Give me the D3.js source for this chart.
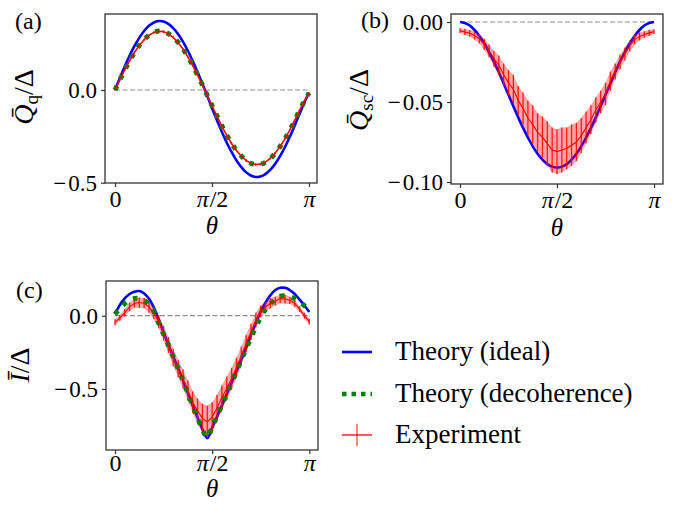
<!DOCTYPE html>
<html>
<head>
<meta charset="utf-8">
<script src="https://cdn.jsdelivr.net/npm/d3@7"></script>
<style>
  body { margin: 0; background: #fff; }
  svg text { font-family: "Liberation Serif", "Times New Roman", serif; }
</style>
</head>
<body>
<svg id="fig" width="676" height="510"></svg>
<script>
// theta grid, 41 samples from 0 to pi
const theta = d3.range(41).map(k => k * Math.PI / 40);

// (a) Q_q / Delta
const qqIdeal = [0, 0.065, 0.127, 0.185, 0.236, 0.281, 0.318, 0.346, 0.364, 0.372, 0.370, 0.357, 0.334, 0.302, 0.261, 0.213, 0.158, 0.098, 0.035, -0.031, -0.097, -0.162, -0.224, -0.282, -0.333, -0.378, -0.415, -0.443, -0.461, -0.469, -0.467, -0.454, -0.431, -0.399, -0.358, -0.310, -0.255, -0.195, -0.132, -0.070, -0.015];
const qqDecoh = [0, 0.054, 0.107, 0.156, 0.201, 0.240, 0.272, 0.296, 0.311, 0.318, 0.316, 0.304, 0.285, 0.257, 0.222, 0.181, 0.134, 0.083, 0.028, -0.028, -0.084, -0.139, -0.192, -0.242, -0.286, -0.324, -0.355, -0.379, -0.395, -0.402, -0.401, -0.390, -0.370, -0.342, -0.307, -0.266, -0.219, -0.168, -0.113, -0.063, -0.016];
const qqExp = [0, 0.055, 0.108, 0.157, 0.202, 0.240, 0.271, 0.295, 0.310, 0.317, 0.315, 0.303, 0.284, 0.256, 0.221, 0.180, 0.133, 0.082, 0.027, -0.029, -0.085, -0.140, -0.193, -0.243, -0.287, -0.325, -0.356, -0.380, -0.395, -0.402, -0.400, -0.389, -0.369, -0.341, -0.306, -0.265, -0.218, -0.167, -0.112, -0.062, -0.015];
const qqErr = [0.004, 0.005, 0.005, 0.006, 0.006, 0.006, 0.007, 0.006, 0.007, 0.007, 0.007, 0.006, 0.007, 0.007, 0.006, 0.007, 0.007, 0.006, 0.007, 0.007, 0.007, 0.007, 0.006, 0.007, 0.007, 0.006, 0.007, 0.007, 0.006, 0.007, 0.007, 0.006, 0.007, 0.006, 0.006, 0.006, 0.005, 0.006, 0.005, 0.005, 0.004];

// (b) Q_sc / Delta
const qscIdeal = [0, -0.0006, -0.0022, -0.0050, -0.0087, -0.0133, -0.0188, -0.0248, -0.0314, -0.0384, -0.0455, -0.0526, -0.0596, -0.0662, -0.0722, -0.0777, -0.0823, -0.0860, -0.0888, -0.0904, -0.0910, -0.0904, -0.0888, -0.0860, -0.0823, -0.0777, -0.0722, -0.0662, -0.0596, -0.0526, -0.0455, -0.0384, -0.0314, -0.0248, -0.0188, -0.0133, -0.0087, -0.0050, -0.0022, -0.0006, 0];
const qscExp = [-0.0054, -0.0062, -0.0070, -0.0085, -0.0105, -0.0140, -0.0180, -0.0230, -0.0270, -0.0330, -0.0380, -0.0420, -0.0490, -0.0540, -0.0600, -0.0640, -0.0690, -0.0720, -0.0760, -0.0800, -0.0810, -0.0800, -0.0790, -0.0770, -0.0750, -0.0710, -0.0660, -0.0610, -0.0550, -0.0500, -0.0450, -0.0370, -0.0310, -0.0250, -0.0200, -0.0150, -0.0110, -0.0090, -0.0078, -0.0068, -0.0060];
const qscErr = [0.0015, 0.002, 0.002, 0.0025, 0.003, 0.0035, 0.004, 0.005, 0.006, 0.007, 0.008, 0.009, 0.009, 0.010, 0.011, 0.012, 0.012, 0.013, 0.014, 0.014, 0.014, 0.014, 0.013, 0.013, 0.012, 0.011, 0.010, 0.009, 0.008, 0.007, 0.007, 0.006, 0.005, 0.0045, 0.004, 0.0035, 0.003, 0.0025, 0.002, 0.002, 0.0015];

// (c) I / Delta
const iIdeal = [0.011, 0.073, 0.118, 0.148, 0.164, 0.168, 0.152, 0.115, 0.055, -0.025, -0.115, -0.200, -0.280, -0.360, -0.440, -0.528, -0.612, -0.695, -0.775, -0.835, -0.765, -0.690, -0.612, -0.535, -0.457, -0.380, -0.300, -0.220, -0.130, -0.050, 0.030, 0.090, 0.140, 0.175, 0.190, 0.190, 0.175, 0.148, 0.110, 0.070, 0.025];
const iDecoh = [0.010, 0.050, 0.082, 0.105, 0.117, 0.118, 0.105, 0.075, 0.027, -0.050, -0.127, -0.202, -0.280, -0.360, -0.440, -0.528, -0.612, -0.695, -0.775, -0.830, -0.760, -0.685, -0.610, -0.533, -0.455, -0.380, -0.302, -0.222, -0.150, -0.075, -0.010, 0.045, 0.082, 0.112, 0.133, 0.136, 0.130, 0.117, 0.095, 0.068, 0.040];
const iExp = [-0.045, -0.015, 0.020, 0.060, 0.085, 0.090, 0.085, 0.060, 0.015, -0.040, -0.120, -0.200, -0.285, -0.360, -0.430, -0.510, -0.590, -0.650, -0.700, -0.725, -0.690, -0.630, -0.560, -0.495, -0.430, -0.355, -0.275, -0.190, -0.110, -0.030, 0.030, 0.060, 0.085, 0.100, 0.115, 0.114, 0.105, 0.085, 0.045, 0.000, -0.040];
const iErr = [0.020, 0.020, 0.025, 0.030, 0.030, 0.035, 0.035, 0.040, 0.040, 0.045, 0.050, 0.055, 0.060, 0.060, 0.065, 0.070, 0.075, 0.085, 0.100, 0.110, 0.100, 0.090, 0.085, 0.080, 0.075, 0.070, 0.065, 0.060, 0.055, 0.050, 0.040, 0.035, 0.035, 0.030, 0.030, 0.030, 0.025, 0.025, 0.020, 0.020, 0.020];

const legendLabels = ["Theory (ideal)", "Theory (decoherence)", "Experiment"];

const svg = d3.select("#fig");

const panels = [
  { tag: "(a)", tagXY: [15, 29], box: [105, 14, 317, 183], xr: [115, 309], yd: [0, -0.5], yr: [90, 182.7],
    yt: [0, -0.5], fmt: ".1f", lab: ["Q̄", "q", "/Δ"], labXY: [33, 97], thY: 234, xpad: 3, ideal: qqIdeal, decoh: qqDecoh, exp: qqExp, err: qqErr, band: false },
  { tag: "(b)", tagXY: [361, 28], box: [451, 14, 663, 184], xr: [460, 654], yd: [0, -0.1], yr: [22, 182],
    yt: [0, -0.05, -0.1], fmt: ".2f", lab: ["Q̄", "sc", "/Δ"], labXY: [368, 100], thY: 236, xpad: 3, ideal: qscIdeal, decoh: null, exp: qscExp, err: qscErr, band: true },
  { tag: "(c)", tagXY: [16, 298], box: [106, 281, 318, 450], xr: [115, 309.3], yd: [0, -0.5], yr: [315.7, 389],
    yt: [0, -0.5], fmt: ".1f", lab: ["Ī", "", "/Δ"], labXY: [29, 365], thY: 497, xpad: 0, ideal: iIdeal, decoh: iDecoh, exp: iExp, err: iErr, band: true }
];

panels.forEach(p => {
  const x = d3.scaleLinear().domain([0, Math.PI]).range(p.xr);
  const y = d3.scaleLinear().domain(p.yd).range(p.yr);
  const g = svg.append("g");
  const line = d3.line().x((d, i) => x(theta[i])).y(d => y(d));

  // zero reference
  g.append("line")
    .attr("x1", x(0)).attr("x2", x(Math.PI))
    .attr("y1", y(0)).attr("y2", y(0))
    .attr("stroke", "#8c8c8c").attr("stroke-width", 1.2)
    .attr("stroke-dasharray", "5,2.5");

  g.append("path")
    .attr("d", line.curve(d3.curveCatmullRom)(p.ideal))
    .attr("fill", "none").attr("stroke", "#0000ff").attr("stroke-width", 2.6);

  // experiment: band + error bars
  if (p.band) {
    const area = d3.area()
      .x((d, i) => x(theta[i]))
      .y0((d, i) => y(d - p.err[i]))
      .y1((d, i) => y(d + p.err[i]));
    g.append("path").attr("d", area(p.exp))
      .attr("fill", "#ff0000").attr("fill-opacity", 0.35);
  }
  g.selectAll(null).data(p.exp).join("line")
    .attr("x1", (d, i) => x(theta[i])).attr("x2", (d, i) => x(theta[i]))
    .attr("y1", (d, i) => y(d - p.err[i])).attr("y2", (d, i) => y(d + p.err[i]))
    .attr("stroke", "#ff0000").attr("stroke-opacity", 0.85).attr("stroke-width", 1.3);

  if (p.decoh) {
    g.append("path")
      .attr("d", line.curve(d3.curveCatmullRom)(p.decoh))
      .attr("fill", "none").attr("stroke", "#008000").attr("stroke-width", 5)
      .attr("stroke-dasharray", "4.5,7.5");
  }

  g.append("path")
    .attr("d", line.curve(d3.curveLinear)(p.exp))
    .attr("fill", "none").attr("stroke", "#ff0000").attr("stroke-width", p.band ? 1.1 : 1.6);

  // frame
  const [l, t, r, b] = p.box;
  g.append("rect").attr("x", l).attr("y", t).attr("width", r - l).attr("height", b - t)
    .attr("fill", "none").attr("stroke", "#333").attr("stroke-width", 1.3);

  // y axis
  const fmt = d3.format(p.fmt);
  const ay = g.append("g").attr("transform", `translate(${l},0)`)
    .call(d3.axisLeft(y).tickValues(p.yt).tickFormat(fmt).tickSize(4).tickPadding(4));
  ay.select(".domain").remove();
  ay.selectAll("line").attr("stroke", "#333").attr("stroke-width", 1.2);
  ay.selectAll(".tick text").attr("fill", "#000").attr("font-size", 23)
    .attr("font-family", '"Liberation Serif", serif')
    .each(function (d) {
      const s = fmt(d);
      if (s[0] !== "−") return;
      const el = d3.select(this).text(null);
      el.append("tspan").text("−");
      el.append("tspan").attr("dx", 2).text(s.slice(1));
    });

  // x axis
  const ax = g.append("g").attr("transform", `translate(0,${b})`)
    .call(d3.axisBottom(x).tickValues([0, Math.PI / 2, Math.PI]).tickSize(4).tickPadding(p.xpad).tickFormat(""));
  ax.select(".domain").remove();
  ax.selectAll("line").attr("stroke", "#333").attr("stroke-width", 1.2);
  ax.selectAll(".tick text").attr("fill", "#000").attr("font-size", 24)
    .each(function (d) {
      const s = d3.select(this);
      if (d === 0) { s.text("0"); return; }
      s.append("tspan").attr("font-style", "italic").text("π");
      if (d < Math.PI) s.append("tspan").attr("dx", 1).text("/2");
    });

  // axis labels
  g.append("text").attr("x", x(Math.PI / 2)).attr("y", p.thY)
    .attr("text-anchor", "middle").attr("font-size", 25).attr("font-style", "italic").text("θ");

  const yl = g.append("text")
    .attr("transform", `translate(${p.labXY[0]},${p.labXY[1]}) rotate(-90)`)
    .attr("text-anchor", "middle").attr("font-size", 28);
  yl.append("tspan").attr("font-style", "italic").text(p.lab[0]);
  if (p.lab[1]) {
    yl.append("tspan").attr("font-size", 19).attr("dy", 5).text(p.lab[1]);
    yl.append("tspan").attr("dy", -5).text(p.lab[2]);
  } else {
    yl.append("tspan").text(p.lab[2]);
  }

  g.append("text").attr("x", p.tagXY[0]).attr("y", p.tagXY[1])
    .attr("font-size", 24).text(p.tag);
});

// legend
const leg = svg.append("g").attr("transform", "translate(342,0)");
const rows = [352, 394, 435];
leg.append("line").attr("x1", 0).attr("x2", 30).attr("y1", rows[0]).attr("y2", rows[0])
  .attr("stroke", "#0000ff").attr("stroke-width", 2.6);
leg.append("line").attr("x1", 0).attr("x2", 30).attr("y1", rows[1]).attr("y2", rows[1])
  .attr("stroke", "#008000").attr("stroke-width", 4.5).attr("stroke-dasharray", "4.5,5");
leg.append("line").attr("x1", 0).attr("x2", 30).attr("y1", rows[2]).attr("y2", rows[2])
  .attr("stroke", "#ff0000").attr("stroke-width", 1.3);
leg.append("line").attr("x1", 15).attr("x2", 15).attr("y1", rows[2] - 11).attr("y2", rows[2] + 11)
  .attr("stroke", "#ff0000").attr("stroke-opacity", 0.75).attr("stroke-width", 1.3);
leg.selectAll("text.lab").data(legendLabels).join("text")
  .attr("class", "lab")
  .attr("x", 53).attr("y", (d, i) => rows[i] + 8)
  .attr("font-size", 27).text(d => d);
</script>
</body>
</html>
